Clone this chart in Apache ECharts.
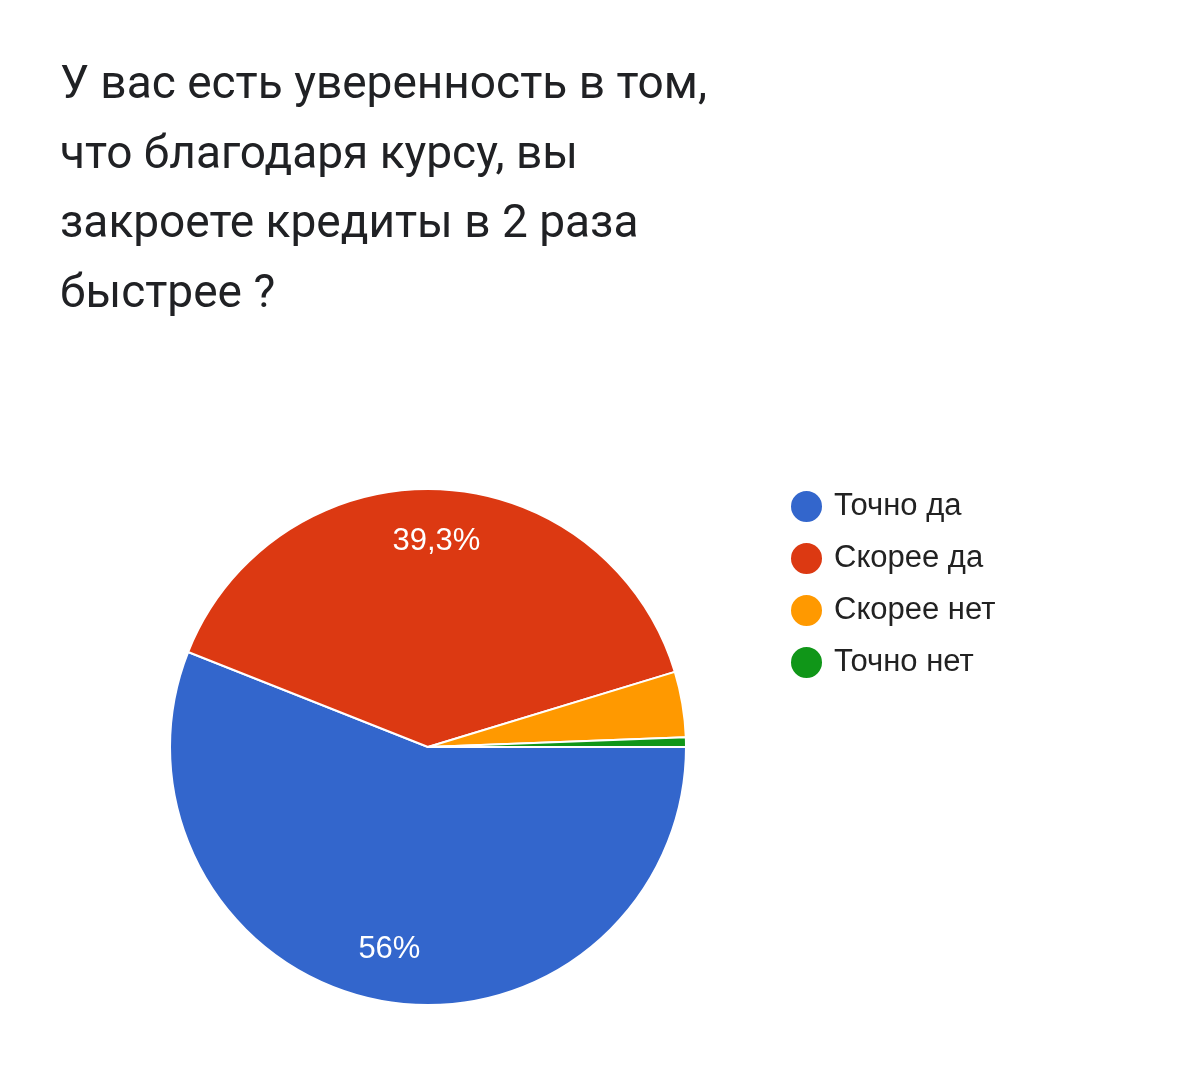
<!DOCTYPE html>
<html style="height: 100%">
    <head>
        <meta charset="utf-8">
        <script type="text/javascript" src="https://cdn.jsdelivr.net/npm/echarts@6/dist/echarts.min.js"></script>
    </head>
    <body style="height: 100%; margin: 0; background: #fff">
        <div id="main" style="width: 1200px; height: 1086px"></div>
        <script type="text/javascript">
            var titleText = 'У вас есть уверенность в том,\nчто благодаря курсу, вы\nзакроете кредиты в 2 раза\nбыстрее ?';
            var answers = ['Точно да', 'Скорее да', 'Скорее нет', 'Точно нет'];
            var shares = [56, 39.3, 4.1, 0.6];
            var colors = ['#3366cc', '#dc3912', '#ff9900', '#109618'];

            var pieData = answers.map(function (name, i) {
                return { name: name, value: shares[i], itemStyle: { color: colors[i] } };
            });
            // same values, no colours: only carries the % labels further out
            var labelData = answers.map(function (name, i) {
                return { name: name, value: shares[i] };
            });

            var myChart = echarts.init(document.getElementById('main'));
            myChart.setOption({
                backgroundColor: '#ffffff',
                animation: false,
                title: {
                    text: titleText,
                    left: 55,
                    top: 47,
                    textStyle: {
                        fontFamily: 'Roboto',
                        fontWeight: 'normal',
                        fontSize: 46,
                        lineHeight: 69.5,
                        color: '#202124'
                    }
                },
                legend: {
                    orient: 'vertical',
                    left: 784,
                    top: 484,
                    icon: 'circle',
                    itemWidth: 33,
                    itemHeight: 33,
                    itemGap: 17,
                    data: answers.map(function (name, i) {
                        return { name: name, itemStyle: { color: colors[i] } };
                    }),
                    textStyle: {
                        fontFamily: 'Liberation Sans',
                        fontSize: 31,
                        lineHeight: 33,
                        color: '#222222',
                        padding: [0, 0, 0, 6]
                    }
                },
                series: [
                    {
                        type: 'pie',
                        center: [428, 747],
                        radius: [0, 258],
                        startAngle: 0,
                        clockwise: true,
                        data: pieData,
                        label: { show: false },
                        labelLine: { show: false },
                        itemStyle: { borderColor: '#ffffff', borderWidth: 2 }
                    },
                    {
                        type: 'pie',
                        silent: true,
                        center: [428, 747],
                        radius: [148, 258],
                        startAngle: 0,
                        clockwise: true,
                        data: labelData,
                        itemStyle: { color: 'rgba(0,0,0,0)', borderWidth: 0 },
                        labelLine: { show: false },
                        label: {
                            show: true,
                            position: 'inside',
                            fontFamily: 'Liberation Sans',
                            fontSize: 31,
                            color: '#ffffff',
                            formatter: function (p) {
                                if (p.value < 5) return '';
                                return String(p.value).replace('.', ',') + '%';
                            }
                        }
                    }
                ]
            });
        </script>
    </body>
</html>
